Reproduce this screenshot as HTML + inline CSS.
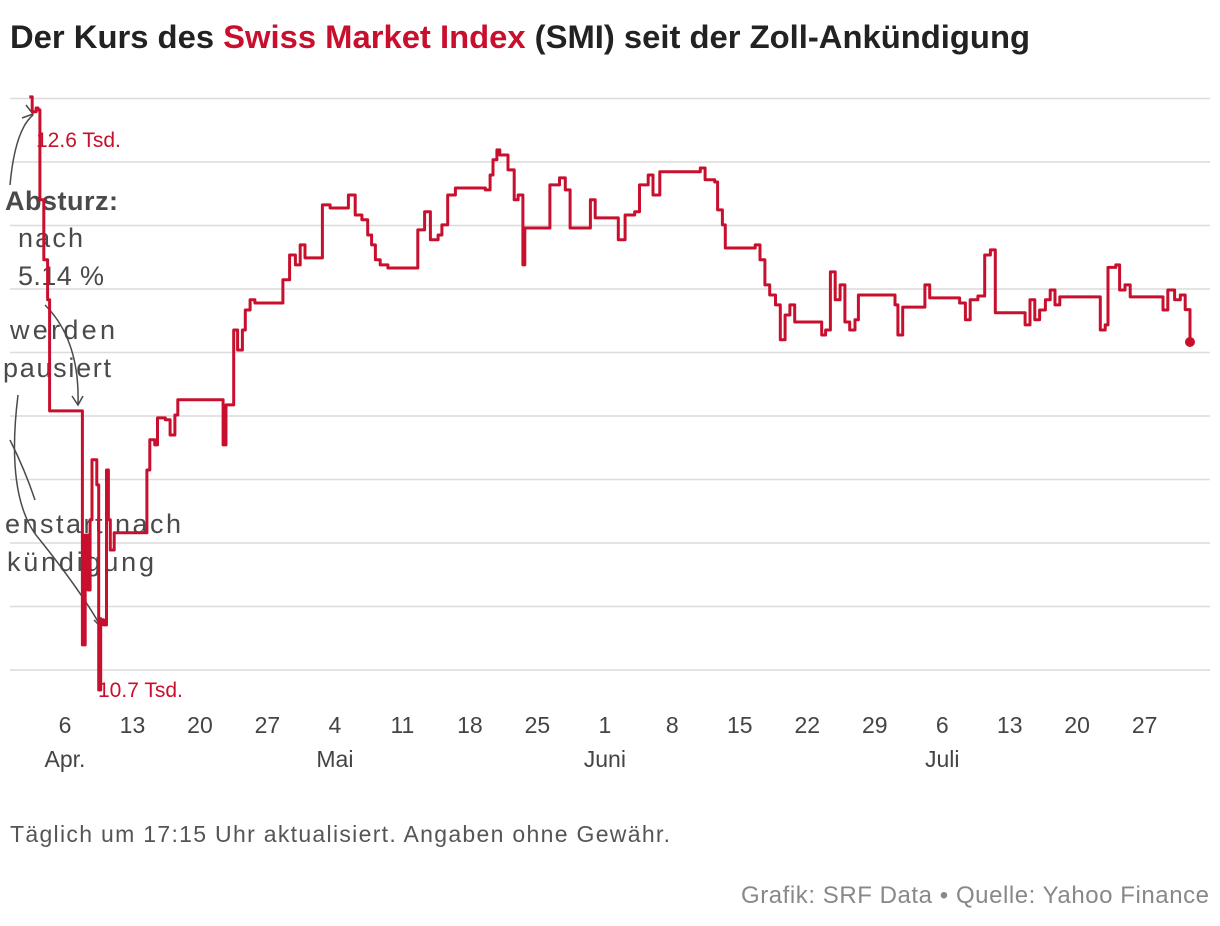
<!DOCTYPE html>
<html><head><meta charset="utf-8"><style>
body{margin:0;width:1220px;height:926px;background:#fff;overflow:hidden;font-family:"Liberation Sans",sans-serif}
svg{position:absolute;left:0;top:0}
</style></head><body>
<svg width="1220" height="926" id="chart">
<text x="10" y="48" font-size="32" font-weight="bold" fill="#222" textLength="1020" lengthAdjust="spacingAndGlyphs">Der Kurs des <tspan fill="#c8102e">Swiss Market Index</tspan> (SMI) seit der Zoll-Ankündigung</text>
<g id="grid"></g>
<g id="xaxis"></g>
<g fill="#4a4a4a" font-size="27">
<text x="5" y="210" font-weight="bold" textLength="113">Absturz:</text>
<text x="18" y="247" textLength="65">nach</text>
<text x="18" y="285" textLength="86">5.14 %</text>
<text x="10" y="339" textLength="105">werden</text>
<text x="3" y="377" textLength="108">pausiert</text>
<text x="5" y="533" textLength="176">enstart nach</text>
<text x="7" y="571" textLength="147">kündigung</text>
</g>
<g fill="none" stroke="#4a4a4a" stroke-width="1.5">
<path d="M10 185 Q15 130 33 115"/><path d="M26 105 L33 114 L22 118"/>
<path d="M45 305 Q80 340 78 405"/><path d="M72 396 L78 405 L83 396"/>
<path d="M18 395 Q5 500 40 540 Q80 590 100 625"/><path d="M94 620 L100 626 L101 617"/>
<path d="M10 440 Q25 470 35 500"/>
</g>
<g id="series"></g>
<text x="36" y="147" font-size="21" fill="#c8102e">12.6 Tsd.</text>
<text x="98" y="697" font-size="21" fill="#c8102e">10.7 Tsd.</text>
<text x="10" y="842" font-size="23" fill="#555" textLength="660">Täglich um 17:15 Uhr aktualisiert. Angaben ohne Gewähr.</text>
<text x="741" y="903" font-size="24" fill="#888" textLength="468">Grafik: SRF Data • Quelle: Yahoo Finance</text>
</svg>
<script>
const yTicks=[10800,11000,11200,11400,11600,11800,12000,12200,12400,12600];
const xTickDays=[0,7,14,21,28,35,42,49,56,63,70,77,84,91,98,105,112];
const xTickLabels=["6","13","20","27","4","11","18","25","1","8","15","22","29","6","13","20","27"];
const monthDays=[0,28,56,91];
const monthLabels=["Apr.","Mai","Juni","Juli"];
const days=[-3.7,-3.4,-3.0,-2.8,-2.6,-2.2,-1.8,-1.6,1.6,1.8,2.1,2.4,2.6,2.8,3.3,3.5,3.7,4.0,4.3,4.5,4.7,5.1,5.7,8.3,8.5,8.8,9.3,9.6,10.4,10.9,11.4,11.7,16.1,16.4,16.7,17.3,17.5,17.9,18.4,18.7,19.2,19.7,22.3,22.6,23.3,23.9,24.4,24.9,26.2,26.7,27.5,29.0,29.4,30.1,30.8,31.4,31.8,32.2,32.7,33.5,36.3,36.6,37.3,37.9,38.7,39.1,39.7,40.5,43.0,43.6,44.1,44.4,44.8,45.1,45.95,46.6,47.0,47.5,47.7,50.1,50.3,51.3,51.9,52.4,54.1,54.5,55.0,57.1,57.4,58.1,59.1,59.6,60.5,61.0,61.7,65.4,65.9,66.4,67.4,67.7,68.2,68.5,71.3,71.6,72.1,72.6,73.1,73.7,74.2,74.7,75.2,75.7,78.1,78.5,78.9,79.4,79.9,80.4,80.9,81.4,81.95,82.3,85.6,86.1,86.4,86.9,88.7,89.2,89.7,92.3,92.8,93.4,93.9,94.7,95.4,96.0,96.5,99.1,99.6,100.1,100.6,101.1,101.7,102.2,102.7,103.2,106.8,107.4,107.9,108.2,109.0,109.4,109.96,110.5,113.6,113.9,114.4,115.1,115.7,116.2,116.7];
const values=[12605,12558,12570,12564,12281,12092,11966,11616,11616,10879,11225,11052,11273,11462,11383,10737,10958,10942,11430,11273,11178,11232,11232,11232,11430,11525,11509,11594,11588,11540,11603,11651,11651,11509,11635,11635,11871,11808,11871,11934,11966,11956,11956,12029,12107,12076,12139,12098,12098,12265,12255,12255,12296,12233,12218,12170,12139,12092,12076,12066,12066,12186,12243,12155,12170,12202,12296,12318,12318,12312,12359,12407,12438,12422,12375,12281,12296,12076,12192,12192,12328,12350,12312,12192,12192,12281,12224,12224,12155,12233,12243,12328,12359,12296,12369,12369,12381,12344,12337,12249,12202,12129,12129,12139,12092,12013,11981,11950,11840,11918,11950,11896,11896,11855,11871,12054,11966,12013,11896,11871,11903,11981,11981,11950,11855,11943,11943,12013,11972,11972,11956,11903,11966,11978,12107,12123,11925,11925,11887,11966,11903,11934,11966,11997,11950,11975,11975,11871,11887,12068,12076,11997,12013,11975,11975,11934,11997,11966,11981,11935,11833];
const ns="http://www.w3.org/2000/svg";
const X=d=>65+d*9.64, Y=v=>670-(v-10800)*0.3175;
function mk(t,a,p){const e=document.createElementNS(ns,t);for(const k in a)e.setAttribute(k,a[k]);p.appendChild(e);return e;}
const grid=document.getElementById('grid');
yTicks.forEach(v=>{const l=mk('line',{x1:10,x2:1210,y1:Y(v),y2:Y(v),stroke:'#dcdcdc','stroke-width':1.5},grid);

});
const xa=document.getElementById('xaxis');
xTickDays.forEach((d,i)=>{const t=mk('text',{x:X(d),y:733,'font-size':23,fill:'#444','text-anchor':'middle'},xa);t.textContent=xTickLabels[i];

});
monthDays.forEach((d,i)=>{const t=mk('text',{x:X(d),y:767,'font-size':23,fill:'#444','text-anchor':'middle'},xa);t.textContent=monthLabels[i];

});
let p='';days.forEach((d,i)=>{p+=(i?'H'+X(d).toFixed(1)+'V':'M'+X(d).toFixed(1)+' ')+Y(values[i]).toFixed(1);});
const s=document.getElementById('series');
const path=mk('path',{d:p,fill:'none',stroke:'#c8102e','stroke-width':3,'stroke-linejoin':'round'},s);


const n=days.length-1;
const dot=mk('circle',{cx:X(days[n]),cy:Y(values[n]),r:5,fill:'#c8102e'},s);


</script>
</body></html>
